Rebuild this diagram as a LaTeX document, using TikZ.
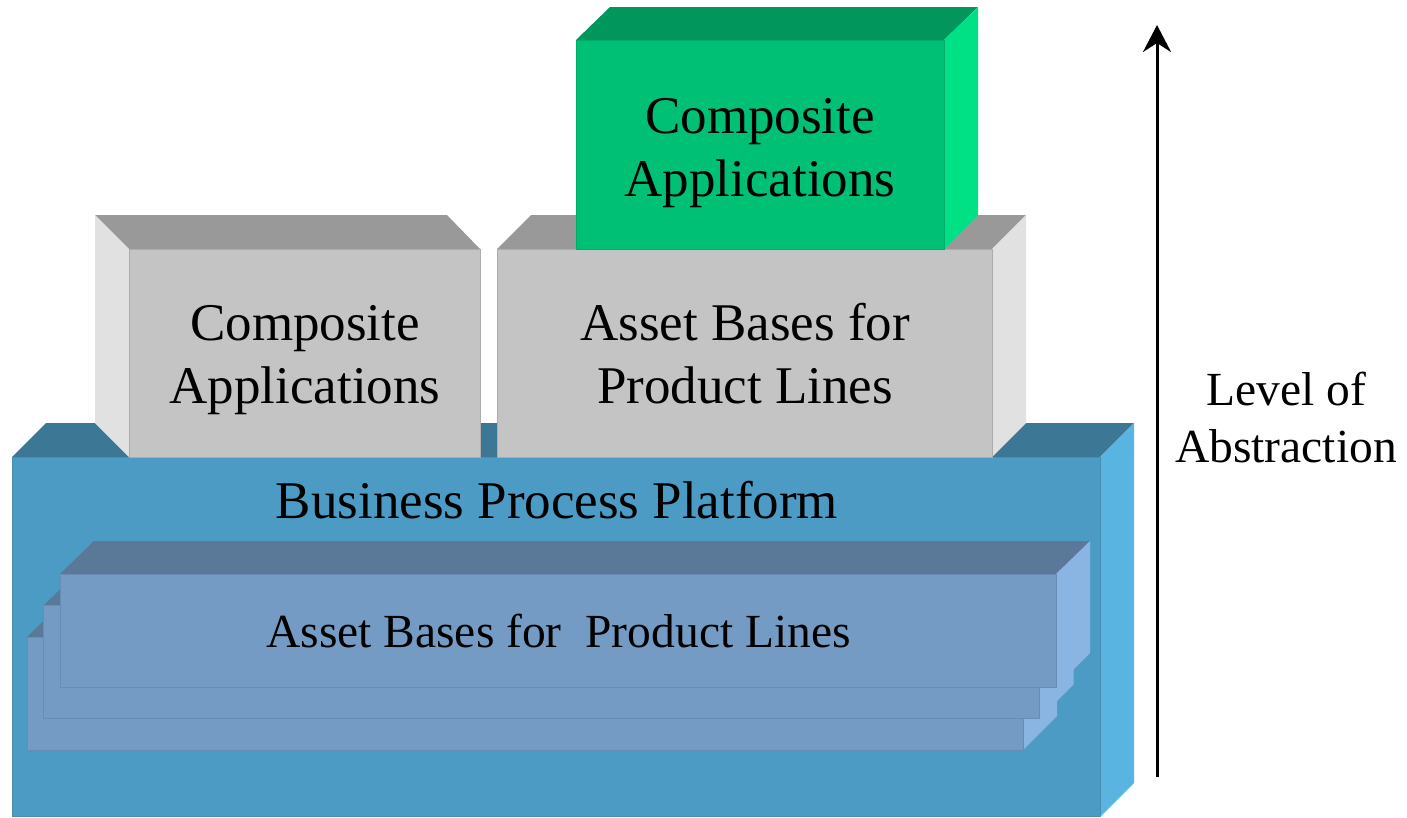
\documentclass[tikz,border=0pt]{standalone}
\usepackage{fontspec}
\setmainfont{Liberation Serif}
\usetikzlibrary{arrows.meta}
\definecolor{grayFront}{RGB}{196,196,196}
\definecolor{grayTop}{RGB}{153,153,153}
\definecolor{graySide}{RGB}{225,225,225}
\definecolor{grayEdge}{RGB}{172,172,172}
\definecolor{greenFront}{RGB}{0,192,118}
\definecolor{greenTop}{RGB}{0,150,92}
\definecolor{greenSide}{RGB}{0,224,132}
\definecolor{greenEdge}{RGB}{0,172,106}
\definecolor{blueFront}{RGB}{76,155,196}
\definecolor{blueTop}{RGB}{60,120,150}
\definecolor{blueSide}{RGB}{90,180,225}
\definecolor{blueEdge}{RGB}{70,142,182}
\definecolor{innerFront}{RGB}{116,155,196}
\definecolor{innerTop}{RGB}{90,120,152}
\definecolor{innerSide}{RGB}{138,180,225}
\definecolor{innerEdge}{RGB}{104,140,180}
\tikzset{
  bigtext/.style={inner sep=0pt, align=center, font=\fontsize{53}{63}\selectfont},
  midtext/.style={inner sep=0pt, align=center, font=\fontsize{47.5}{57}\selectfont},
  axisarrow/.style={line width=3pt, -{Stealth[length=27pt,width=28pt,inset=9pt]}}
}
\begin{document}
\begin{tikzpicture}[x=1pt,y=-1pt]
\useasboundingbox (0,0) rectangle (1407,817);
% ---------- Business process platform (big blue box)
\fill[blueTop] (12,457) -- (46,423) -- (1134,423) -- (1100,457) -- cycle;
\fill[blueSide] (1100,457) -- (1134,423) -- (1134,783) -- (1100,817) -- cycle;
\filldraw[fill=blueFront, draw=blueEdge, line width=1pt] (12.5,457) rectangle (1100,816.5);
% ---------- inner stacked layers (back to front)
\foreach \dx/\dy in {-33/63, -16.5/31.5, 0/0}{
  \begin{scope}[shift={(\dx,\dy)}]
    \fill[innerTop] (60,574) -- (94,541) -- (1090,541) -- (1056,574) -- cycle;
    \fill[innerSide] (1056,574) -- (1090,541) -- (1090,653) -- (1056,687) -- cycle;
    \filldraw[fill=innerFront, draw=innerEdge, line width=1pt] (60,574) rectangle (1056,687);
  \end{scope}
}
% ---------- left gray box
\fill[grayTop] (95,215) -- (447,215) -- (480,249) -- (129,249) -- cycle;
\fill[graySide] (95,215) -- (129,249) -- (129,457) -- (95,423) -- cycle;
\filldraw[fill=grayFront, draw=grayEdge, line width=1pt] (129,249) rectangle (480,457);
% ---------- right gray box
\fill[grayTop] (497,249) -- (531,215) -- (1026,215) -- (992,249) -- cycle;
\fill[graySide] (992,249) -- (1026,215) -- (1026,423) -- (992,457) -- cycle;
\filldraw[fill=grayFront, draw=grayEdge, line width=1pt] (497,249) rectangle (992,457);
% ---------- green box
\fill[greenTop] (576,40) -- (610,7) -- (978,7) -- (944,40) -- cycle;
\fill[greenSide] (944,40) -- (978,7) -- (978,215) -- (944,249) -- cycle;
\filldraw[fill=greenFront, draw=greenEdge, line width=1pt] (576,40) rectangle (944,249);
% ---------- texts
\node[bigtext] (green) at (760,152) {\strut Composite\\\strut Applications};
\node[bigtext] (compleft) at (305,359) {\strut Composite\\\strut Applications};
\node[bigtext] (assetright) at (745,359) {\strut Asset Bases for\\\strut Product Lines};
\node[bigtext, anchor=base] (bpp) at (557,518) {Business Process Platform};
\node[midtext, anchor=base] (assetinner) at (558.5,647) {Asset Bases for\ \ Product Lines};
\node[midtext] (level) at (1286,423) {\strut Level of\\\strut Abstraction};
% ---------- axis arrow
\coordinate (arrbot) at (1157,777);
\coordinate (arrtop) at (1157,25);
\draw[axisarrow] (arrbot) -- (arrtop);
\end{tikzpicture}
\end{document}
